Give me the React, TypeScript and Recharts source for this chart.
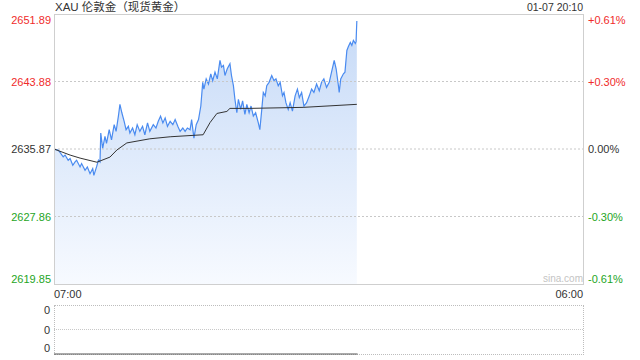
import { ComposedChart, Area, Line, XAxis, YAxis, ReferenceLine } from "recharts";

const TITLE = "XAU 伦敦金（现货黄金）";
const STAMP = "01-07 20:10";

// minutes after 07:00
const priceTimes = [
  0, 11, 24, 29, 37, 42, 49, 55, 59, 68, 72, 81, 87, 94, 101, 104, 111, 116, 120, 122,
  127, 133, 137, 144, 150, 157, 162, 168, 172, 177, 183, 188, 194, 198, 205, 211, 217, 224, 231, 237,
  244, 250, 259, 266, 272, 278, 284, 290, 296, 303, 310, 316, 323, 329, 336, 342, 348, 355, 359, 365,
  371, 377, 383, 388, 391, 397, 403, 409, 414, 420, 426, 433, 437, 442, 446, 452, 459, 463, 468, 472,
  477, 481, 487, 492, 498, 503, 509, 514, 520, 526, 533, 537, 542, 546, 551, 555, 561, 568, 574, 579,
  585, 590, 596, 600, 605, 611, 616, 622, 629, 635, 640, 646, 652, 659, 666, 672, 678, 685, 692, 698,
  704, 711, 718, 724, 731, 736, 742, 744, 748, 755, 759, 764, 768, 773, 777, 781, 786, 788, 790,
];
const priceValues = [
  2635.83, 2635.75, 2634.95, 2635.15, 2634.54, 2634.74, 2633.94, 2634.34, 2634.54, 2633.74, 2634.14, 2633.34, 2633.74, 2632.94, 2633.54, 2632.74, 2633.74, 2634.54, 2634.34, 2637.76,
  2635.95, 2637.36, 2636.55, 2638.16, 2636.95, 2638.76, 2637.96, 2639.77, 2641.17, 2640.17, 2639.16, 2638.16, 2638.56, 2637.76, 2638.36, 2637.56, 2638.76, 2637.96, 2638.56, 2637.56,
  2638.96, 2637.96, 2638.76, 2638.36, 2639.16, 2639.77, 2638.96, 2639.56, 2638.56, 2639.16, 2638.76, 2639.36, 2638.56, 2637.96, 2638.36, 2637.96, 2638.36, 2638.16, 2639.36, 2637.16,
  2638.76, 2639.36, 2640.97, 2643.78, 2642.98, 2644.19, 2643.58, 2644.79, 2643.98, 2644.99, 2644.19, 2646.39, 2645.59, 2645.79, 2644.59, 2645.39, 2645.99, 2644.59, 2643.38, 2641.77,
  2640.17, 2641.77, 2640.57, 2641.57, 2639.97, 2641.17, 2640.17, 2640.97, 2639.77, 2640.17, 2638.96, 2638.16, 2640.57, 2642.58, 2642.18, 2643.38, 2643.78, 2644.59, 2643.98, 2644.19,
  2643.38, 2643.78, 2642.18, 2642.58, 2641.37, 2640.57, 2641.37, 2640.37, 2642.18, 2642.98, 2641.98, 2642.58, 2640.97, 2641.37, 2642.18, 2642.98, 2642.58, 2643.58, 2642.78, 2643.78,
  2644.19, 2643.18, 2643.78, 2644.99, 2646.39, 2645.39, 2643.38, 2642.58, 2644.19, 2644.79, 2644.99, 2647.56, 2648.04, 2648.52, 2648.16, 2648.76, 2648.4, 2648.64, 2651.05,
];

const avgTimes = [0, 42, 68, 112, 146, 164, 190, 250, 303, 389, 407, 425, 451, 459, 511, 650, 790];
const avgValues = [
  2635.87, 2635.15, 2634.79, 2634.3, 2634.91, 2635.75, 2636.59, 2637.08, 2637.32, 2637.56, 2639.0, 2640.09, 2640.33, 2640.69, 2640.69, 2640.81, 2641.17,
];

const volTimes = [0, 792];
const volValues = [0, 0];

const priceTicks = [2619.85, 2627.86, 2635.87, 2643.88, 2651.89];
const priceLabels = ["2619.85", "2627.86", "2635.87", "2643.88", "2651.89"];
const pctLabels = ["-0.61%", "-0.30%", "0.00%", "+0.30%", "+0.61%"];
const gridValues = [2627.86, 2635.87, 2643.88];
const timeTicks = [0, 1380];
const timeLabels = ["07:00", "06:00"];
const volTicks = [0, 1, 2];
const volLabels = ["0", "0", "0"];

const FONT = "Arial, 'Liberation Sans', 'Noto Sans CJK SC', sans-serif";
const RED = "#f02b2b";
const GREEN = "#1ea51e";

// merge both series onto one time table
const allTimes = Array.from(new Set([...priceTimes, ...avgTimes])).sort((a, b) => a - b);
const mainData = allTimes.map((t) => {
  const pi = priceTimes.indexOf(t);
  const ai = avgTimes.indexOf(t);
  return {
    t,
    price: pi >= 0 ? priceValues[pi] : null,
    avg: ai >= 0 ? avgValues[ai] : null,
  };
});
const volData = volTimes.map((t, i) => ({ t, vol: volValues[i] }));

function PriceTick(props: any) {
  const { y, payload } = props;
  const i = priceTicks.indexOf(payload.value);
  const color = i > 2 ? RED : i < 2 ? GREEN : "#333";
  const dy = i === 4 ? 6 : i === 0 ? -5 : 0;
  return (
    <g>
      <text x={51} y={y + dy} dy={4} textAnchor="end" fill={color} fontSize={11} fontFamily={FONT}>
        {priceLabels[i]}
      </text>
      <text x={588} y={y + dy} dy={4} textAnchor="start" fill={color} fontSize={11} fontFamily={FONT}>
        {pctLabels[i]}
      </text>
    </g>
  );
}

function TimeTick(props: any) {
  const { x, payload } = props;
  const i = timeTicks.indexOf(payload.value);
  return (
    <text x={x} y={294} dy={4} textAnchor={i === 0 ? "start" : "end"} fill="#333" fontSize={11} fontFamily={FONT}>
      {timeLabels[i]}
    </text>
  );
}

function VolTick(props: any) {
  const { y, payload } = props;
  const i = volTicks.indexOf(payload.value);
  const dy = i === 2 ? 5 : i === 0 ? -6 : 0;
  return (
    <text x={50} y={y + dy} dy={4} textAnchor="end" fill="#333" fontSize={11} fontFamily={FONT}>
      {volLabels[i]}
    </text>
  );
}

export default function App() {
  return (
    <div style={{ position: "absolute", left: 0, top: 0, width: 640, height: 360, background: "#fff", fontFamily: FONT }}>
      <div style={{ position: "absolute", left: 55, top: 0, fontSize: 11.5, lineHeight: "14px", color: "#333" }}>{TITLE}</div>
      <div style={{ position: "absolute", right: 57, top: 0, fontSize: 10.5, lineHeight: "14px", color: "#333" }}>{STAMP}</div>

      <div style={{ position: "absolute", left: 0, top: 0 }}>
        <ComposedChart width={640} height={300} data={mainData} margin={{ top: 14, right: 57, left: 0, bottom: 0 }}>
          <defs>
            <linearGradient id="fillGrad" x1="0" y1="0" x2="0" y2="1">
              <stop offset="0%" stopColor="#c6daf7" />
              <stop offset="100%" stopColor="#f7faff" />
            </linearGradient>
          </defs>
          <XAxis
            dataKey="t"
            type="number"
            domain={[0, 1380]}
            ticks={timeTicks}
            tick={<TimeTick />}
            tickLine={false}
            axisLine={false}
            height={16}
            interval={0}
          />
          <YAxis
            domain={[priceTicks[0], priceTicks[4]]}
            ticks={priceTicks}
            tick={<PriceTick />}
            tickLine={false}
            axisLine={false}
            width={54}
            interval={0}
            allowDataOverflow
          />
          {gridValues.map((v) => (
            <ReferenceLine key={v} y={v} stroke="#c8c8c8" strokeDasharray="2 2" />
          ))}
          <Area
            type="linear"
            dataKey="price"
            stroke="#4a8bf0"
            strokeWidth={1.2}
            fill="url(#fillGrad)"
            fillOpacity={1}
            connectNulls
            dot={false}
            activeDot={false}
            isAnimationActive={false}
          />
          <Line
            type="linear"
            dataKey="avg"
            stroke="#333"
            strokeWidth={1}
            connectNulls
            dot={false}
            activeDot={false}
            isAnimationActive={false}
          />
        </ComposedChart>
      </div>
      <div style={{ position: "absolute", left: 54, top: 14, width: 530, height: 271, border: "1px solid #cfcfcf", boxSizing: "border-box" }} />
      <div style={{ position: "absolute", left: 543, top: 273, fontSize: 10, color: "#c4c4c4" }}>sina.com</div>

      <div style={{ position: "absolute", left: 54, top: 305, width: 530, height: 50, border: "1px dotted #bdbdbd", boxSizing: "border-box" }} />
      <div style={{ position: "absolute", left: 0, top: 300 }}>
        <ComposedChart width={640} height={60} data={volData} margin={{ top: 5, right: 57, left: 0, bottom: 6 }}>
          <XAxis dataKey="t" type="number" domain={[0, 1380]} hide />
          <YAxis
            domain={[0, 2]}
            ticks={volTicks}
            tick={<VolTick />}
            tickLine={false}
            axisLine={false}
            width={54}
            interval={0}
          />
          <ReferenceLine y={1} stroke="#c8c8c8" strokeDasharray="1 1" />
          <Line
            type="linear"
            dataKey="vol"
            stroke="#555"
            strokeWidth={1}
            dot={false}
            activeDot={false}
            isAnimationActive={false}
          />
        </ComposedChart>
      </div>
    </div>
  );
}
